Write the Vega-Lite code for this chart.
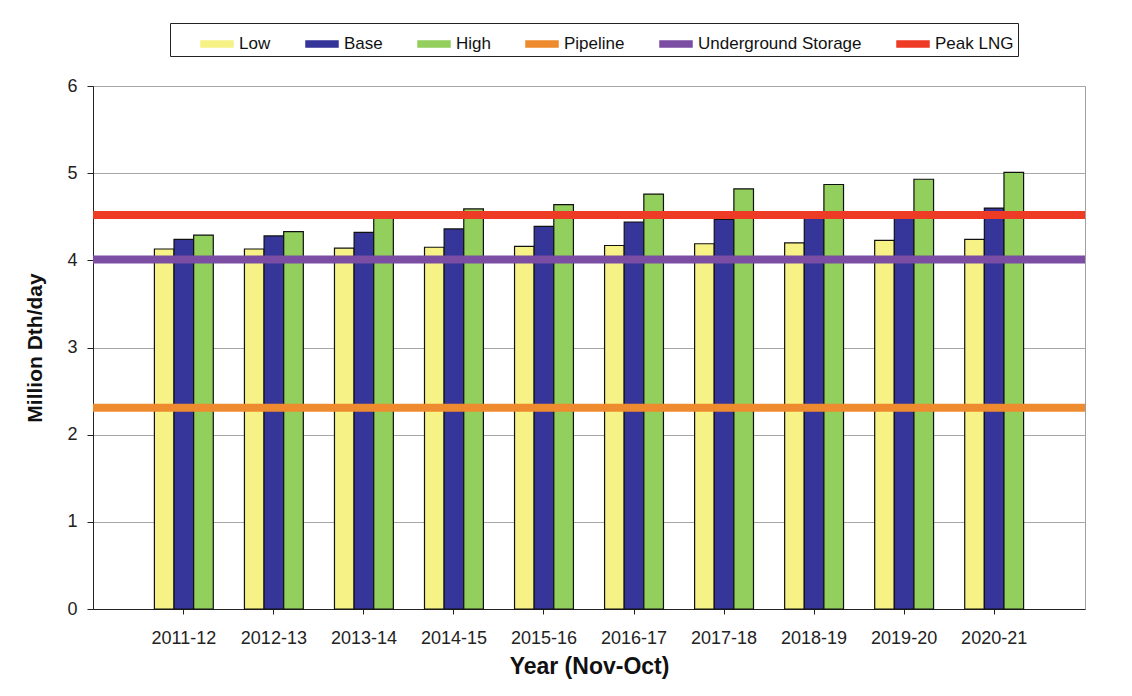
{
  "$schema": "https://vega.github.io/schema/vega-lite/v6.json",
  "width": 992,
  "height": 523,
  "autosize": {"type": "none"},
  "padding": {"left": 93, "top": 86, "right": 47, "bottom": 87},
  "background": "white",
  "config": {"font": "Liberation Sans", "view": {"stroke": "#a0a0a0", "strokeWidth": 1}},
  "datasets": {
    "bars": [
      {"year": "2011-12", "series": "Low", "value": 4.13},
      {"year": "2011-12", "series": "Base", "value": 4.24},
      {"year": "2011-12", "series": "High", "value": 4.29},
      {"year": "2012-13", "series": "Low", "value": 4.13},
      {"year": "2012-13", "series": "Base", "value": 4.28},
      {"year": "2012-13", "series": "High", "value": 4.33},
      {"year": "2013-14", "series": "Low", "value": 4.14},
      {"year": "2013-14", "series": "Base", "value": 4.32},
      {"year": "2013-14", "series": "High", "value": 4.50},
      {"year": "2014-15", "series": "Low", "value": 4.15},
      {"year": "2014-15", "series": "Base", "value": 4.36},
      {"year": "2014-15", "series": "High", "value": 4.59},
      {"year": "2015-16", "series": "Low", "value": 4.16},
      {"year": "2015-16", "series": "Base", "value": 4.39},
      {"year": "2015-16", "series": "High", "value": 4.64},
      {"year": "2016-17", "series": "Low", "value": 4.17},
      {"year": "2016-17", "series": "Base", "value": 4.44},
      {"year": "2016-17", "series": "High", "value": 4.76},
      {"year": "2017-18", "series": "Low", "value": 4.19},
      {"year": "2017-18", "series": "Base", "value": 4.47},
      {"year": "2017-18", "series": "High", "value": 4.82},
      {"year": "2018-19", "series": "Low", "value": 4.20},
      {"year": "2018-19", "series": "Base", "value": 4.51},
      {"year": "2018-19", "series": "High", "value": 4.87},
      {"year": "2019-20", "series": "Low", "value": 4.23},
      {"year": "2019-20", "series": "Base", "value": 4.54},
      {"year": "2019-20", "series": "High", "value": 4.93},
      {"year": "2020-21", "series": "Low", "value": 4.24},
      {"year": "2020-21", "series": "Base", "value": 4.60},
      {"year": "2020-21", "series": "High", "value": 5.01}
    ],
    "lines": [
      {"series": "Pipeline", "value": 2.31},
      {"series": "Underground Storage", "value": 4.01},
      {"series": "Peak LNG", "value": 4.52}
    ]
  },
  "layer": [
    {
      "data": {"name": "bars"},
      "mark": {"type": "bar", "stroke": "#111111", "strokeWidth": 1.2},
      "encoding": {
        "x": {
          "field": "year", "type": "nominal", "sort": null,
          "scale": {"paddingInner": 0.346, "paddingOuter": 0.682},
          "axis": {
            "title": "Year (Nov-Oct)", "titleFontSize": 23, "titleFontWeight": "bold", "titleColor": "#111",
            "titlePadding": 8, "labelAngle": 0, "labelFontSize": 18, "labelColor": "#222",
            "labelPadding": 15, "tickSize": 5, "tickColor": "#222", "domainColor": "#222", "grid": false
          }
        },
        "xOffset": {"field": "series", "type": "nominal", "scale": {"domain": ["Low", "Base", "High"], "paddingInner": 0, "paddingOuter": 0}},
        "y": {
          "field": "value", "type": "quantitative",
          "scale": {"domain": [0, 6], "nice": false},
          "axis": {
            "title": "Million Dth/day", "titleFontSize": 21, "titleFontWeight": "bold", "titleColor": "#111",
            "titlePadding": 21, "values": [0, 1, 2, 3, 4, 5, 6], "format": "d", "labelFontSize": 18, "labelColor": "#222",
            "labelPadding": 10, "tickSize": 6, "tickColor": "#222", "domainColor": "#222",
            "grid": true, "gridColor": "#a6a6a6", "gridWidth": 1
          }
        },
        "color": {
          "field": "series", "type": "nominal",
          "scale": {
            "domain": ["Low", "Base", "High", "Pipeline", "Underground Storage", "Peak LNG"],
            "range": ["#F6F285", "#35359A", "#92CF5C", "#EE8B2F", "#7B4EA3", "#EE3B26"]
          },
          "legend": {
            "orient": "none", "legendX": 77, "legendY": -63, "direction": "horizontal",
            "title": "\u00a0", "titleOrient": "left", "titleFontSize": 17, "titlePadding": 26,
            "padding": 4, "strokeColor": "#222222", "fillColor": "white",
            "symbolSize": 1024, "symbolType": "M-1,-0.19H1V0.19H-1Z",
            "labelFontSize": 17, "labelFont": "Liberation Sans", "labelColor": "#111",
            "labelOffset": 5, "columnPadding": 32, "labelLimit": 400,
            "labelExpr": "datum.label == 'Peak LNG' ? 'Peak LNG\u00a0\u00a0\u00a0\u00a0\u00a0\u00a0' : datum.label"
          }
        }
      }
    },
    {
      "data": {"name": "lines"},
      "mark": {"type": "rule", "strokeWidth": 8},
      "encoding": {
        "y": {"field": "value", "type": "quantitative"},
        "color": {"field": "series", "type": "nominal", "legend": null}
      }
    }
  ]
}
